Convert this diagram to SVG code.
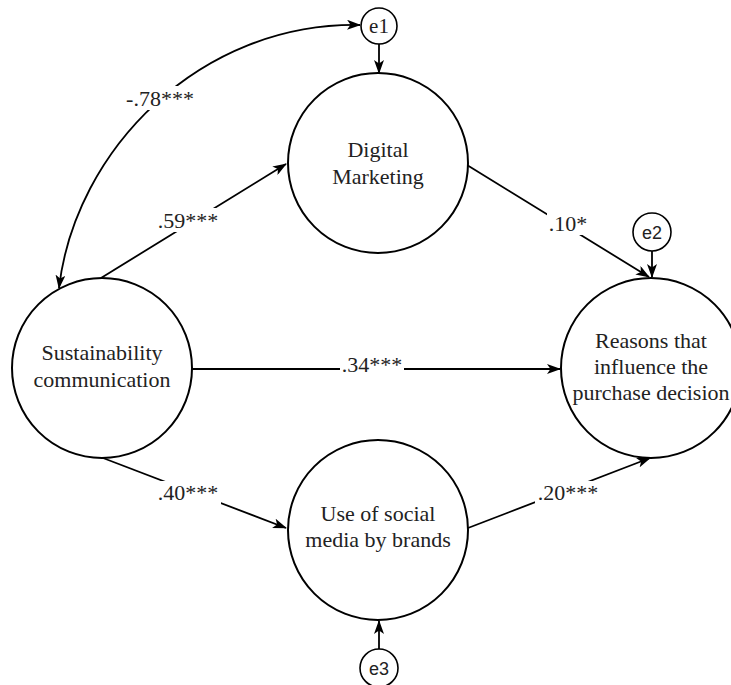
<svg xmlns="http://www.w3.org/2000/svg" width="731" height="685" viewBox="0 0 731 685">
<style>
.node{fill:#fff;stroke:#000;stroke-width:2}
.err{fill:#fff;stroke:#000;stroke-width:1.6}
.t{font-family:"Liberation Serif","Times New Roman",serif;font-size:22px;fill:#222;text-anchor:middle}
.es{font-family:"Liberation Sans",Arial,sans-serif;font-size:18px;fill:#222;text-anchor:middle}
.ee{font-family:"Liberation Serif","Times New Roman",serif;font-size:21px;fill:#222;text-anchor:middle}
.c{fill:none;stroke:#000;stroke-width:1.8}
.bg{fill:#fff}
.lbl{font-family:"Liberation Serif","Times New Roman",serif;font-size:22px;fill:#222;text-anchor:middle}
</style>
<defs>
<marker id="ah" viewBox="0 0 14 10" markerWidth="14" markerHeight="10" refX="13" refY="5" orient="auto-start-reverse" markerUnits="userSpaceOnUse">
<path d="M0,0 L14,5 L0,10 L3.5,5 Z" fill="#000"/>
</marker>
</defs>
<rect width="731" height="685" fill="#fff"/>
<g id="connectors">
<path class="c" d="M59,288 C75,150 200,22 360,25" marker-start="url(#ah)" marker-end="url(#ah)"/>
<line class="c" x1="379" y1="44" x2="379" y2="73" marker-end="url(#ah)"/>
<line class="c" x1="652" y1="251" x2="652" y2="277" marker-end="url(#ah)"/>
<line class="c" x1="379" y1="649" x2="379" y2="621" marker-end="url(#ah)"/>
<line class="c" x1="101" y1="278" x2="286" y2="164" marker-end="url(#ah)"/>
<line class="c" x1="467" y1="165" x2="649" y2="277" marker-end="url(#ah)"/>
<line class="c" x1="192" y1="369" x2="560" y2="369" marker-end="url(#ah)"/>
<line class="c" x1="103" y1="458" x2="286" y2="528" marker-end="url(#ah)"/>
<line class="c" x1="468" y1="528" x2="650" y2="458" marker-end="url(#ah)"/>
<rect class="bg" x="125" y="86" width="70" height="24"/>
<rect class="bg" x="155" y="208" width="66" height="24"/>
<rect class="bg" x="547" y="211" width="43" height="24"/>
<rect class="bg" x="340" y="354" width="64" height="22"/>
<rect class="bg" x="155" y="481" width="66" height="24"/>
<rect class="bg" x="535" y="481" width="66" height="24"/>
<text class="lbl" x="160" y="106">-.78***</text>
<text class="lbl" x="188" y="228">.59***</text>
<text class="lbl" x="568" y="231">.10*</text>
<text class="lbl" x="372" y="372">.34***</text>
<text class="lbl" x="188" y="500">.40***</text>
<text class="lbl" x="568" y="500">.20***</text>
</g>
<g id="sc">
<circle class="node" cx="102" cy="368" r="90"/>
<text class="t" x="102" y="360">Sustainability</text>
<text class="t" x="102" y="387">communication</text>
</g>
<g id="dm">
<circle class="node" cx="378" cy="163" r="90"/>
<text class="t" x="378" y="157">Digital</text>
<text class="t" x="378" y="184">Marketing</text>
</g>
<g id="sm">
<circle class="node" cx="378" cy="530" r="90"/>
<text class="t" x="378" y="521">Use of social</text>
<text class="t" x="378" y="547">media by brands</text>
</g>
<g id="rp">
<circle class="node" cx="651" cy="368" r="90"/>
<text class="t" x="651" y="348">Reasons that</text>
<text class="t" x="651" y="374">influence the</text>
<text class="t" x="651" y="400">purchase decision</text>
</g>
<g id="e1">
<circle class="err" cx="379" cy="26" r="18"/>
<text class="ee" x="379" y="33">e1</text>
</g>
<g id="e2">
<circle class="err" cx="652" cy="232" r="19"/>
<text class="es" x="652" y="238.5">e2</text>
</g>
<g id="e3">
<circle class="err" cx="379" cy="668" r="19"/>
<text class="es" x="379" y="674.5">e3</text>
</g>
</svg>
